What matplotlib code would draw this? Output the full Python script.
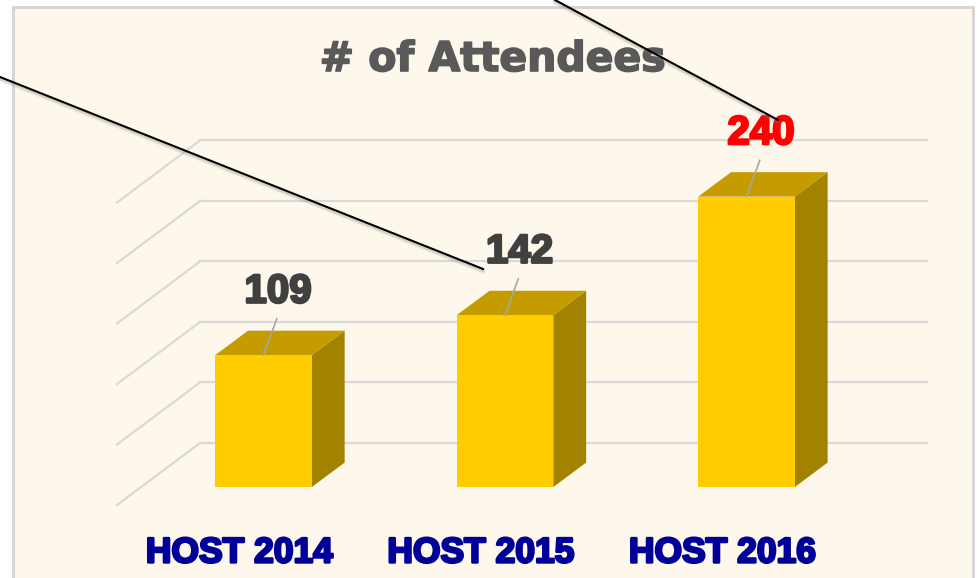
import matplotlib.pyplot as plt
import matplotlib.patheffects as pe
from matplotlib.patches import Rectangle, Polygon
from matplotlib.lines import Line2D

# data
categories = ['HOST 2014', 'HOST 2015', 'HOST 2016']
attendees = [109, 142, 240]
label_colors = ['#404040', '#404040', '#FF0000']
grid_values = [0, 50, 100, 150, 200, 250]

# colours
bg = '#FEF8EC'
front_c = '#FFCC00'
top_c = '#C49C00'
side_c = '#A38200'
grid_c = '#D9D9D9'

fig = plt.figure(figsize=(9.78, 5.78), dpi=100)
fig.patch.set_facecolor('white')

# chart area (cream box with light border)
fig.add_artist(Rectangle((13 / 978, -0.05), 960 / 978, 1.05 - 7 / 578,
                         transform=fig.transFigure, facecolor=bg,
                         edgecolor='#D4D4D4', linewidth=2, zorder=0))

ax = fig.add_axes([0, 0, 1, 1])
ax.set_facecolor('none')
ax.set_xlim(-1.0911, 2.9586)
ax.set_ylim(-75.2, 402.5)
ax.axis('off')

# 3d geometry (x in category units, y in value units)
bar_w = 0.40
depth_dx, depth_dy = 0.136, 20.2       # bar depth
wall_dx, wall_dy = 0.244, 36.4         # back wall offset from bar front plane
floor_dx, floor_dy = -0.0997, -14.9    # front floor edge offset
wall_x0, wall_x1 = -0.263, 2.747

# back wall gridlines + perspective diagonals
for g in grid_values:
    ax.plot([wall_x0, wall_x1], [g + wall_dy, g + wall_dy], color=grid_c, lw=1.6, zorder=1)
    ax.plot([wall_x0, wall_x0 - wall_dx + floor_dx], [g + wall_dy, g + floor_dy],
            color=grid_c, lw=1.6, zorder=1)

def heavy(color, w=1.4):
    return [pe.Stroke(linewidth=w, foreground=color), pe.Normal()]

# bars
for i, v in enumerate(attendees):
    x0, x1 = i - bar_w / 2, i + bar_w / 2
    ax.add_patch(Polygon([(x1, 0), (x1 + depth_dx, depth_dy), (x1 + depth_dx, v + depth_dy), (x1, v)],
                         closed=True, facecolor=side_c, edgecolor='none', zorder=3))
    ax.add_patch(Polygon([(x0, v), (x1, v), (x1 + depth_dx, v + depth_dy), (x0 + depth_dx, v + depth_dy)],
                         closed=True, facecolor=top_c, edgecolor='none', zorder=3))
    ax.add_patch(Rectangle((x0, 0), bar_w, v, facecolor=front_c, edgecolor='none', zorder=4))
    # leader line and value label
    ax.plot([i, i + 0.055], [v, v + 30], color='#A6A6A6', lw=1.2, zorder=5)
    ax.text(i + 0.06, v + 52.5, str(v), ha='center', va='center', fontsize=29,
            fontweight='bold', family='Liberation Sans', color=label_colors[i], zorder=6,
            path_effects=heavy(label_colors[i], 1.8))

# category labels along the front floor edge
for i, c in enumerate(categories):
    ax.text(i + floor_dx, -54.5, c, ha='center', va='center', fontsize=25.5,
            fontweight='bold', family='Liberation Sans', color='#000099', zorder=6,
            path_effects=heavy('#000099', 1.8))

# title
fig.text(493 / 978, 1 - 60 / 578, '# of Attendees', ha='center', va='center',
         fontsize=29.5, fontweight='bold', family='DejaVu Sans', color='#595959',
         path_effects=heavy('#595959', 1.2))

# black callout lines (with soft shadow), in figure pixels
callouts = [((0, 77), (483, 269)), ((555, 0), (778, 120))]
for (xa, ya), (xb, yb) in callouts:
    for k, a in [(3, 0.10), (2, 0.12), (1.2, 0.15)]:
        fig.add_artist(Line2D([xa / 978, xb / 978], [1 - (ya + k) / 578, 1 - (yb + k) / 578],
                              transform=fig.transFigure, color='gray', lw=2.5, alpha=a, zorder=7))
    fig.add_artist(Line2D([xa / 978, xb / 978], [1 - ya / 578, 1 - yb / 578],
                          transform=fig.transFigure, color='black', lw=1.5, zorder=8))

fig.savefig('out.png', dpi=100)
